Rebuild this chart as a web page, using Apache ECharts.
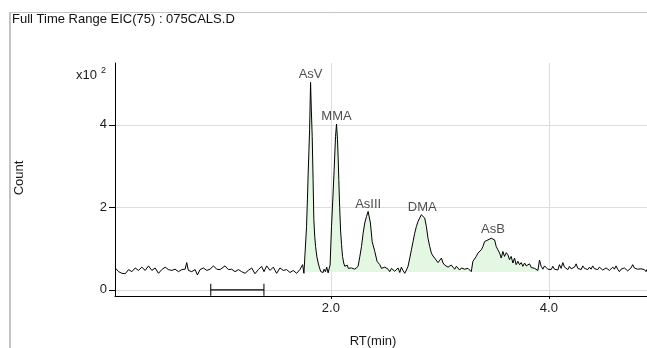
<!DOCTYPE html>
<html>
<head>
<meta charset="utf-8">
<script src="https://cdn.jsdelivr.net/npm/echarts@6/dist/echarts.min.js"></script>
<style>
  html, body { margin: 0; padding: 0; background: #ffffff; }
  #chart { width: 647px; height: 348px; }
</style>
</head>
<body>
<div id="chart"></div>
<script>
// Extracted ion chromatogram, m/z 75 — retention time (min) vs count (x10^2)
const trace = [
  [0.022,0.53],[0.053,0.44],[0.083,0.40],[0.114,0.39],[0.144,0.49],[0.175,0.44],[0.205,0.53],[0.236,0.47],
  [0.266,0.55],[0.297,0.47],[0.327,0.58],[0.358,0.47],[0.388,0.53],[0.419,0.40],[0.449,0.49],[0.480,0.55],
  [0.510,0.49],[0.541,0.47],[0.571,0.50],[0.602,0.44],[0.633,0.49],[0.663,0.50],[0.678,0.66],[0.693,0.47],
  [0.724,0.44],[0.755,0.49],[0.776,0.36],[0.800,0.49],[0.831,0.53],[0.862,0.47],[0.892,0.50],[0.923,0.58],
  [0.953,0.50],[0.984,0.49],[1.029,0.58],[1.060,0.49],[1.090,0.50],[1.121,0.44],[1.152,0.49],[1.182,0.44],
  [1.213,0.40],[1.243,0.47],[1.274,0.53],[1.304,0.39],[1.335,0.49],[1.365,0.57],[1.387,0.44],[1.411,0.58],
  [1.442,0.47],[1.472,0.55],[1.503,0.40],[1.533,0.53],[1.564,0.47],[1.594,0.49],[1.625,0.42],[1.655,0.47],
  [1.686,0.40],[1.716,0.49],[1.741,0.61],[1.753,0.40],
  // AsV
  [1.762,0.41],[1.777,1.53],[1.785,2.18],[1.792,2.83],[1.805,3.88],[1.810,4.53],[1.814,5.03],[1.821,4.36],
  [1.829,3.72],[1.837,2.67],[1.844,1.70],[1.852,1.30],[1.860,1.05],[1.872,0.80],[1.884,0.65],[1.896,0.53],
  [1.908,0.44],[1.920,0.40],[1.929,0.42],[1.938,0.50],[1.950,0.44],[1.962,0.55],[1.975,0.41],[1.985,0.52],
  [1.993,0.60],
  // MMA
  [2.006,1.53],[2.018,2.20],[2.030,2.90],[2.043,3.72],[2.052,4.02],[2.061,3.64],[2.067,3.20],[2.073,2.67],
  [2.081,2.00],[2.089,1.45],[2.098,1.10],[2.107,0.81],[2.118,0.65],[2.128,0.57],[2.140,0.55],[2.150,0.60],
  [2.160,0.52],[2.174,0.48],[2.189,0.53],[2.204,0.57],[2.220,0.50],[2.235,0.53],[2.250,0.57],
  // AsIII
  [2.266,0.81],[2.281,1.05],[2.296,1.37],[2.311,1.62],[2.327,1.78],[2.342,1.90],[2.351,1.86],[2.363,1.62],
  [2.379,1.17],[2.388,1.13],[2.403,0.93],[2.424,0.69],[2.449,0.61],[2.464,0.52],[2.479,0.48],[2.495,0.55],
  [2.510,0.57],[2.525,0.50],[2.540,0.44],[2.556,0.52],[2.571,0.55],[2.586,0.45],[2.601,0.48],[2.617,0.53],
  [2.632,0.42],[2.647,0.55],[2.662,0.47],[2.678,0.40],[2.693,0.48],[2.708,0.57],
  // DMA
  [2.724,0.77],[2.739,0.97],[2.754,1.17],[2.769,1.37],[2.785,1.54],[2.800,1.66],[2.815,1.74],[2.830,1.82],
  [2.846,1.82],[2.861,1.74],[2.876,1.54],[2.891,1.25],[2.907,1.05],[2.922,0.89],[2.937,0.82],[2.952,0.77],
  [2.968,0.73],[2.983,0.66],[2.998,0.69],[3.014,0.77],[3.029,0.65],[3.044,0.60],[3.059,0.61],[3.075,0.55],
  [3.090,0.53],[3.105,0.60],[3.120,0.55],[3.136,0.50],[3.151,0.57],[3.166,0.55],[3.181,0.48],[3.197,0.53],
  [3.212,0.55],[3.227,0.50],[3.242,0.47],[3.258,0.52],[3.273,0.53],[3.288,0.44],
  // AsB
  [3.303,0.69],[3.319,0.73],[3.334,0.81],[3.349,0.89],[3.364,0.93],[3.380,0.97],[3.395,1.05],[3.410,1.17],
  [3.426,1.15],[3.441,1.21],[3.456,1.17],[3.471,1.25],[3.487,1.28],[3.502,1.21],[3.517,1.05],[3.532,0.97],
  [3.548,0.89],[3.563,0.77],[3.578,0.93],[3.593,0.81],[3.609,0.90],[3.624,0.85],[3.639,0.73],[3.654,0.81],
  [3.670,0.65],[3.685,0.77],[3.700,0.61],[3.716,0.69],[3.731,0.61],[3.746,0.66],[3.761,0.57],[3.777,0.65],
  [3.792,0.58],[3.807,0.55],[3.823,0.63],[3.838,0.54],[3.853,0.58],[3.869,0.52],[3.884,0.55],[3.899,0.47],
  [3.914,0.72],[3.929,0.57],[3.945,0.50],[3.960,0.58],[3.975,0.60],
  [3.990,0.50],[4.006,0.53],[4.021,0.49],[4.036,0.57],[4.051,0.50],[4.067,0.53],[4.082,0.48],[4.097,0.61],
  [4.112,0.52],[4.128,0.66],[4.143,0.55],[4.158,0.53],[4.174,0.49],[4.189,0.57],[4.204,0.51],[4.219,0.50],
  [4.235,0.55],[4.250,0.63],[4.265,0.52],[4.280,0.53],[4.296,0.49],[4.311,0.58],[4.326,0.52],[4.341,0.53],
  [4.357,0.49],[4.372,0.55],[4.387,0.50],[4.402,0.58],[4.418,0.51],[4.433,0.53],[4.448,0.49],[4.463,0.55],
  [4.479,0.51],[4.494,0.48],[4.509,0.46],[4.525,0.53],[4.540,0.50],[4.555,0.47],[4.570,0.51],[4.586,0.55],
  [4.601,0.50],[4.616,0.58],[4.631,0.50],[4.647,0.44],[4.662,0.50],[4.677,0.47],[4.692,0.53],[4.708,0.57],
  [4.723,0.46],[4.738,0.44],[4.753,0.53],[4.769,0.61],[4.784,0.53],[4.799,0.57],[4.814,0.50],[4.830,0.47],
  [4.845,0.51],[4.860,0.53],[4.876,0.49],[4.891,0.44],[4.900,0.50]
];

// Identified species: name, apex retention time, apex height
const peakNames  = ['AsV', 'MMA', 'AsIII', 'DMA', 'AsB'];
const peakRT     = [1.814, 2.052, 2.342, 2.838, 3.487];
const peakHeight = [5.03, 4.02, 1.90, 1.82, 1.28];

// Integrated window (shaded) and its baseline level
const integrationWindow = [1.762, 3.914];
const integrationBase = 0.43;

// Axis ticks
const xTicks = [2, 4];
const yTicks = [0, 2, 4];

// Scale segment drawn on the zero line
const scaleBar = [0.898, 1.386];

const FONT = '"Liberation Sans", Arial, sans-serif';
const FS = 13;
const integrated = trace.filter(p => p[0] >= integrationWindow[0] && p[0] <= integrationWindow[1]);

const chart = echarts.init(document.getElementById('chart'), null, { renderer: 'canvas' });

chart.setOption({
  animation: false,
  backgroundColor: '#ffffff',
  title: {
    text: 'Full Time Range EIC(75) : 075CALS.D',
    left: 12, top: 13, padding: 0,
    textStyle: { fontFamily: FONT, fontSize: FS, fontWeight: 'normal', color: '#111111' }
  },
  grid: { left: 115, right: 0, top: 63, bottom: 52 },
  xAxis: {
    type: 'value', min: 0.02, max: 4.9,
    axisLine: { show: true, onZero: false, lineStyle: { color: '#000000', width: 1 } },
    axisTick: { show: true, length: 3, customValues: xTicks, lineStyle: { color: '#000000' } },
    axisLabel: { customValues: xTicks, margin: 6, formatter: v => v.toFixed(1),
                 fontFamily: FONT, fontSize: FS, color: '#1a1a1a' },
    splitLine: { show: true, lineStyle: { color: '#dddddd', width: 1 } }
  },
  yAxis: {
    type: 'value', min: -0.15, max: 5.5,
    axisLine: { show: true, onZero: false, lineStyle: { color: '#000000', width: 1 } },
    axisTick: { show: true, length: 6, customValues: yTicks, lineStyle: { color: '#000000' } },
    axisLabel: { customValues: yTicks, margin: 8, fontFamily: FONT, fontSize: FS, color: '#1a1a1a' },
    splitLine: { show: true, lineStyle: { color: '#dddddd', width: 1 } }
  },
  graphic: [
    { type: 'rect', silent: true, shape: { x: 9.5, y: 12.5, width: 700, height: 400 },
      style: { fill: null, stroke: '#c4c4c4', lineWidth: 1 } },
    { type: 'line', silent: true, shape: { x1: 10, y1: 12, x2: 10, y2: 348 },
      style: { stroke: '#c4c4c4', lineWidth: 2 } },
    { type: 'text', x: 76, y: 75, style: { text: 'x10', fontFamily: FONT, fontSize: FS, fill: '#1a1a1a', verticalAlign: 'middle' } },
    { type: 'text', x: 101, y: 71, style: { text: '2', fontFamily: FONT, fontSize: 9, fill: '#1a1a1a', verticalAlign: 'middle' } },
    { type: 'text', x: 373, y: 341, style: { text: 'RT(min)', fontFamily: FONT, fontSize: FS, fill: '#1a1a1a', align: 'center', verticalAlign: 'middle' } },
    { type: 'text', x: 19, y: 178, rotation: Math.PI / 2,
      style: { text: 'Count', fontFamily: FONT, fontSize: FS, fill: '#1a1a1a', align: 'center', verticalAlign: 'middle' } }
  ],
  series: [
    {
      type: 'line', name: 'integrated', data: integrated, showSymbol: false, silent: true,
      lineStyle: { width: 0, opacity: 0 },
      areaStyle: { color: '#e3f7e3', opacity: 1, origin: integrationBase },
      z: 2
    },
    {
      type: 'line', name: 'EIC', data: trace, showSymbol: false, silent: true,
      lineStyle: { color: '#000000', width: 1 },
      z: 3
    },
    {
      type: 'line', name: 'scale', data: scaleBar.map(x => [x, 0]), showSymbol: false, silent: true,
      lineStyle: { color: '#000000', width: 1.2 }, z: 4
    },
    {
      type: 'scatter', name: 'scale caps', data: scaleBar.map(x => [x, 0]), silent: true,
      symbol: 'rect', symbolSize: [1.3, 12], itemStyle: { color: '#000000' }, z: 4
    },
    {
      type: 'scatter', name: 'peaks', silent: true, symbolSize: 0,
      data: peakNames.map((n, i) => ({ name: n, value: [peakRT[i], peakHeight[i]] })),
      label: { show: true, position: 'top', distance: 1, formatter: p => p.name,
               fontFamily: FONT, fontSize: FS, color: '#222222' },
      z: 5
    }
  ]
});
</script>
</body>
</html>
